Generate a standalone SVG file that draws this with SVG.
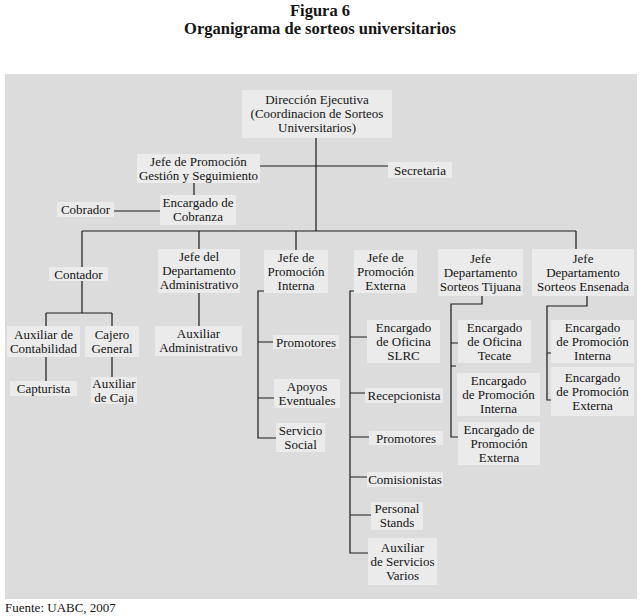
<svg xmlns="http://www.w3.org/2000/svg" width="641" height="616" viewBox="0 0 641 616">
<style>
.t{font-family:"Liberation Serif","Times New Roman",serif;font-size:13px;fill:#141414;text-anchor:middle}
.h{font-family:"Liberation Serif","Times New Roman",serif;font-size:16.5px;font-weight:bold;fill:#141414;text-anchor:middle}
.b{fill:#ebebeb}
.c{fill:none;stroke:#1a1a1a;stroke-width:1.2}
</style>
<rect width="641" height="616" fill="#ffffff"/>
<text class="h" x="320" y="16">Figura 6</text>
<text class="h" x="320" y="34">Organigrama de sorteos universitarios</text>
<rect x="5" y="74" width="632" height="525" fill="#dcdcdc"/>
<g id="connectors" class="c">
<path d="M316,138 V231"/>
<path d="M260,166 H388"/>
<path d="M194,183 V195"/>
<path d="M114,211 H160"/>
<path d="M82,231 H576"/>
<path d="M82,231 V267 M199,231 V249 M296,231 V250 M576,231 V249"/>
<path d="M82,281 V313 M46,313 H112 M46,313 V326 M112,313 V326"/>
<path d="M46,357 V381 M112,357 V377"/>
<path d="M199,293 V326"/>
<path d="M264,291 H258 V438 H276 M258,342 H273 M258,398 H274"/>
<path d="M356,291 H350 V553 H368 M350,337 H367 M350,393 H365 M350,437 H369 M350,477 H367 M350,515 H371"/>
<path d="M482,296 V304 H451 V437 H458 M451,343 H458 M451,366 H456"/>
<path d="M587,296 V306 H547 V400 H551 M547,353 H551"/>
</g>
<g id="dir"><rect class="b" x="242" y="90" width="150" height="48"/><text class="t"><tspan x="317" y="104">Dirección Ejecutiva</tspan><tspan x="317" y="118">(Coordinacion de Sorteos</tspan><tspan x="317" y="132">Universitarios)</tspan></text></g>
<g id="jpg"><rect class="b" x="137" y="154" width="123" height="29"/><text class="t"><tspan x="198.5" y="165.5">Jefe de Promoción</tspan><tspan x="198.5" y="179.5">Gestión y Seguimiento</tspan></text></g>
<g id="sec"><rect class="b" x="388" y="162" width="64" height="16"/><text class="t" x="420" y="174.5">Secretaria</text></g>
<g id="enc"><rect class="b" x="160" y="195" width="76" height="30"/><text class="t"><tspan x="198" y="207">Encargado de</tspan><tspan x="198" y="221">Cobranza</tspan></text></g>
<g id="cob"><rect class="b" x="57" y="202" width="57" height="15"/><text class="t" x="85.5" y="214">Cobrador</text></g>
<g id="contador"><rect class="b" x="49" y="267" width="59" height="14"/><text class="t" x="78.5" y="278.5">Contador</text></g>
<g id="auxcont"><rect class="b" x="7" y="326" width="73" height="31"/><text class="t"><tspan x="43.5" y="338.5">Auxiliar de</tspan><tspan x="43.5" y="352.5">Contabilidad</tspan></text></g>
<g id="cajero"><rect class="b" x="85" y="326" width="54" height="31"/><text class="t"><tspan x="112" y="338.5">Cajero</tspan><tspan x="112" y="352.5">General</tspan></text></g>
<g id="captur"><rect class="b" x="10" y="381" width="67" height="15"/><text class="t" x="43.5" y="393">Capturista</text></g>
<g id="auxcaja"><rect class="b" x="91" y="377" width="46" height="27"/><text class="t"><tspan x="114" y="387.5">Auxiliar</tspan><tspan x="114" y="401.5">de Caja</tspan></text></g>
<g id="jda"><rect class="b" x="158" y="249" width="82" height="44"/><text class="t"><tspan x="199" y="261">Jefe del</tspan><tspan x="199" y="275">Departamento</tspan><tspan x="199" y="289">Administrativo</tspan></text></g>
<g id="auxadm"><rect class="b" x="155" y="326" width="87" height="30"/><text class="t"><tspan x="198.5" y="338">Auxiliar</tspan><tspan x="198.5" y="352">Administrativo</tspan></text></g>
<g id="jpi"><rect class="b" x="264" y="250" width="64" height="43"/><text class="t"><tspan x="296" y="261.5">Jefe de</tspan><tspan x="296" y="275.5">Promoción</tspan><tspan x="296" y="289.5">Interna</tspan></text></g>
<g id="promo1"><rect class="b" x="273" y="335" width="66" height="14"/><text class="t" x="306" y="346.5">Promotores</text></g>
<g id="apoyos"><rect class="b" x="274" y="379" width="66" height="29"/><text class="t"><tspan x="307" y="390.5">Apoyos</tspan><tspan x="307" y="404.5">Eventuales</tspan></text></g>
<g id="servicio"><rect class="b" x="276" y="423" width="49" height="29"/><text class="t"><tspan x="300.5" y="434.5">Servicio</tspan><tspan x="300.5" y="448.5">Social</tspan></text></g>
<g id="jpe"><rect class="b" x="354" y="250" width="63" height="43"/><text class="t"><tspan x="385.5" y="261.5">Jefe de</tspan><tspan x="385.5" y="275.5">Promoción</tspan><tspan x="385.5" y="289.5">Externa</tspan></text></g>
<g id="slrc"><rect class="b" x="367" y="320" width="73" height="43"/><text class="t"><tspan x="403.5" y="331.5">Encargado</tspan><tspan x="403.5" y="345.5">de Oficina</tspan><tspan x="403.5" y="359.5">SLRC</tspan></text></g>
<g id="recep"><rect class="b" x="365" y="388" width="78" height="15"/><text class="t" x="404" y="400">Recepcionista</text></g>
<g id="promo2"><rect class="b" x="369" y="431" width="74" height="14"/><text class="t" x="406" y="442.5">Promotores</text></g>
<g id="comis"><rect class="b" x="367" y="472" width="76" height="15"/><text class="t" x="405" y="484">Comisionistas</text></g>
<g id="stands"><rect class="b" x="371" y="502" width="52" height="28"/><text class="t"><tspan x="397" y="513">Personal</tspan><tspan x="397" y="527">Stands</tspan></text></g>
<g id="auxserv"><rect class="b" x="368" y="538" width="69" height="47"/><text class="t"><tspan x="402.5" y="551.5">Auxiliar</tspan><tspan x="402.5" y="565.5">de Servicios</tspan><tspan x="402.5" y="579.5">Varios</tspan></text></g>
<g id="jtij"><rect class="b" x="438" y="249" width="85" height="47"/><text class="t"><tspan x="480.5" y="262.5">Jefe</tspan><tspan x="480.5" y="276.5">Departamento</tspan><tspan x="480.5" y="290.5">Sorteos Tijuana</tspan></text></g>
<g id="tecate"><rect class="b" x="458" y="320" width="73" height="43"/><text class="t"><tspan x="494.5" y="331.5">Encargado</tspan><tspan x="494.5" y="345.5">de Oficina</tspan><tspan x="494.5" y="359.5">Tecate</tspan></text></g>
<g id="tpi"><rect class="b" x="457" y="373" width="83" height="43"/><text class="t"><tspan x="498.5" y="384.5">Encargado</tspan><tspan x="498.5" y="398.5">de Promoción</tspan><tspan x="498.5" y="412.5">Interna</tspan></text></g>
<g id="tpe"><rect class="b" x="458" y="422" width="82" height="43"/><text class="t"><tspan x="499" y="433.5">Encargado de</tspan><tspan x="499" y="447.5">Promoción</tspan><tspan x="499" y="461.5">Externa</tspan></text></g>
<g id="jens"><rect class="b" x="532" y="249" width="102" height="47"/><text class="t"><tspan x="583" y="262.5">Jefe</tspan><tspan x="583" y="276.5">Departamento</tspan><tspan x="583" y="290.5">Sorteos Ensenada</tspan></text></g>
<g id="epi"><rect class="b" x="551" y="320" width="83" height="43"/><text class="t"><tspan x="592.5" y="331.5">Encargado</tspan><tspan x="592.5" y="345.5">de Promoción</tspan><tspan x="592.5" y="359.5">Interna</tspan></text></g>
<g id="epe"><rect class="b" x="551" y="367" width="83" height="49"/><text class="t"><tspan x="592.5" y="381.5">Encargado</tspan><tspan x="592.5" y="395.5">de Promoción</tspan><tspan x="592.5" y="409.5">Externa</tspan></text></g>
<text class="t" x="5" y="612" style="text-anchor:start">Fuente: UABC, 2007</text>
</svg>
